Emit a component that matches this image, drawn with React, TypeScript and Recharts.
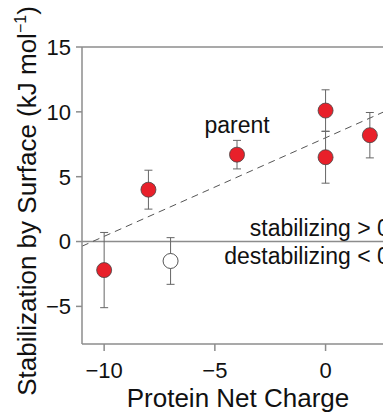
import {
  ScatterChart, Scatter, XAxis, YAxis, ErrorBar,
  ReferenceLine, ReferenceDot,
} from "recharts";

// mutants (filled) and the one outlier (open)
const charge = [-10, -8, -4, 0, 0, 2];
const stab = [-2.2, 4.0, 6.7, 10.1, 6.5, 8.2];
const stabErr = [2.9, 1.5, 1.1, 1.6, 2.0, 1.75];

const openCharge = [-7];
const openStab = [-1.5];
const openErr = [1.8];

// dashed linear fit, end points
const fitX = [-11, 3];
const fitY = [-0.36, 10.28];

const xTicks = [-10, -5, 0];
const yTicks = [-5, 0, 5, 10, 15];

const noteText = ["parent", "stabilizing > 0", "destabilizing < 0"];
const noteX = [-4, 2.9, 2.9];
const noteY = [8.4, 0.46, -1.7];

const FONT = "'Liberation Sans', Arial, Helvetica, sans-serif";
const AXIS = "#8c8c8c";

const filled = charge.map((x, i) => ({ x, y: stab[i], err: stabErr[i] }));
const open = openCharge.map((x, i) => ({ x, y: openStab[i], err: openErr[i] }));

const fmt = (v: number) => (v < 0 ? `\u2212${Math.abs(v)}` : `${v}`);

const YLabel = () => (
  <text x={36} y={201} transform="rotate(-90 36 201)" textAnchor="middle"
    fontSize={26} fontFamily={FONT} fill="#111">
    Stabilization by Surface (kJ mol
    <tspan dy={-10} fontSize={16}>{"\u22121"}</tspan>
    <tspan dy={10}>)</tspan>
  </text>
);

const XLabel = () => (
  <text x={238} y={407} textAnchor="middle" fontSize={26} fontFamily={FONT} fill="#111">
    Protein Net Charge
  </text>
);

export default function App() {
  return (
    <div style={{ position: "fixed", left: 0, top: 0, width: 383, height: 416, overflow: "hidden", background: "#fff" }}>
      <ScatterChart width={440} height={416} margin={{ top: 47, right: 48, bottom: 0, left: 0 }}>
        <XAxis type="number" dataKey="x" domain={[-11, 3]} ticks={xTicks} height={72}
          allowDataOverflow tickFormatter={fmt}
          tick={{ fill: "#111", fontSize: 22, fontFamily: FONT }}
          tickSize={7} tickMargin={11}
          stroke={AXIS} strokeWidth={1.5}
          label={<XLabel />} />
        <YAxis type="number" dataKey="y" domain={[-7.9, 15]} ticks={yTicks} width={82}
          allowDataOverflow tickFormatter={fmt}
          tick={{ fill: "#111", fontSize: 22, fontFamily: FONT }}
          tickSize={6} tickMargin={5}
          stroke={AXIS} strokeWidth={1.5}
          label={<YLabel />} />

        <ReferenceLine y={15} stroke={AXIS} strokeWidth={1.5} />
        <ReferenceLine y={0} stroke={AXIS} strokeWidth={1.5} />
        <ReferenceLine segment={[{ x: fitX[0], y: fitY[0] }, { x: fitX[1], y: fitY[1] }]}
          stroke="#555" strokeWidth={1} strokeDasharray="7 5" />

        <Scatter data={open} isAnimationActive={false}
          shape={(p: any) => <circle cx={p.cx} cy={p.cy} r={7.5} fill="#fff" stroke="#555" strokeWidth={1} />}>
          <ErrorBar dataKey="err" direction="y" width={4} stroke="#666" strokeWidth={1} />
        </Scatter>
        <Scatter data={filled} isAnimationActive={false}
          shape={(p: any) => <circle cx={p.cx} cy={p.cy} r={7.5} fill="#e8202a" stroke="#444" strokeWidth={0.8} />}>
          <ErrorBar dataKey="err" direction="y" width={4} stroke="#666" strokeWidth={1} />
        </Scatter>

        {noteText.map((t, i) => (
          <ReferenceDot key={t} x={noteX[i]} y={noteY[i]} r={0} ifOverflow="visible"
            shape={(p: any) => (
              <text x={p.cx} y={p.cy} textAnchor={i === 0 ? "middle" : "end"}
                fontSize={23} fontFamily={FONT} fill="#111">{t}</text>
            )} />
        ))}
      </ScatterChart>
    </div>
  );
}
